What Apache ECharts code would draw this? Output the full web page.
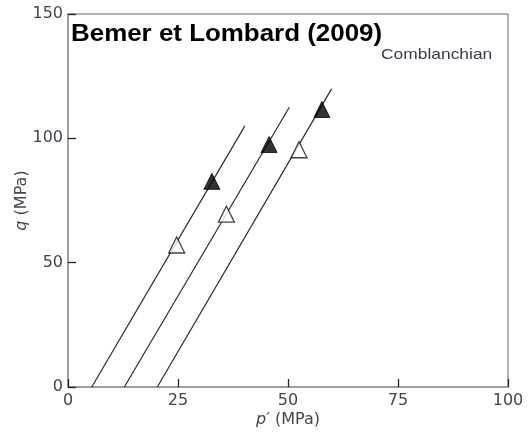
<!DOCTYPE html>
<html>
<head>
<meta charset="utf-8">
<script src="https://cdn.jsdelivr.net/npm/echarts@6/dist/echarts.min.js"></script>
<style>html,body{margin:0;padding:0;background:#fff}#c{width:530px;height:434px}</style>
</head>
<body>
<div id="c"></div>
<script>
// Fitted lines (start and end points in data units)
var line1 = [[5.4, 0], [40.2, 105]];
var line2 = [[12.8, 0], [50.3, 112.5]];
var line3 = [[20.3, 0], [59.9, 119.9]];
// Open triangles
var openPts = [[24.7, 57.1], [36.0, 69.5], [52.5, 95.4]];
// Filled triangles
var filledPts = [[32.7, 82.7], [45.7, 97.5], [57.7, 111.6]];
var xTicks = [0, 25, 50, 75, 100];
var yTicks = [0, 50, 100, 150];
var titleText = 'Bemer et Lombard (2009)';
var rockText = 'Comblanchian';

var chart = echarts.init(document.getElementById('c'));
var labelColor = '#444450';
function lineSeries(d) {
  return {type: 'line', data: d, symbol: 'none', lineStyle: {color: '#2a2a2a', width: 1.2}, silent: true, z: 2};
}
chart.setOption({
  animation: false,
  grid: {left: 68, right: 22, top: 14, bottom: 47, show: true, borderColor: '#999', borderWidth: 1.5,
         containLabel: false, outerBoundsMode: 'none'},
  xAxis: {
    type: 'value', min: xTicks[0], max: xTicks[xTicks.length - 1], interval: 25,
    axisLine: {lineStyle: {color: '#999', width: 1.5}},
    axisTick: {inside: true, length: 8, lineStyle: {color: '#222', width: 1.3}},
    axisLabel: {color: labelColor, fontFamily: 'DejaVu Sans', fontSize: 16, margin: 6},
    splitLine: {show: false},
    name: '{i|p′} (MPa)', nameLocation: 'middle', nameGap: 25, nameMoveOverlap: false,
    nameTextStyle: {color: labelColor, fontFamily: 'DejaVu Sans', fontSize: 16,
      rich: {i: {fontStyle: 'italic', fontFamily: 'DejaVu Sans', fontSize: 16, color: labelColor}}}
  },
  yAxis: {
    type: 'value', min: yTicks[0], max: yTicks[yTicks.length - 1], interval: 50,
    axisLine: {show: true, lineStyle: {color: '#999', width: 1.5}},
    axisTick: {show: true, inside: true, length: 8, lineStyle: {color: '#222', width: 1.3}},
    axisLabel: {color: labelColor, fontFamily: 'DejaVu Sans', fontSize: 16, margin: 5},
    splitLine: {show: false},
    name: '{i|q} (MPa)', nameLocation: 'middle', nameGap: 38, nameMoveOverlap: false,
    nameTextStyle: {color: labelColor, fontFamily: 'DejaVu Sans', fontSize: 16,
      rich: {i: {fontStyle: 'italic', fontFamily: 'DejaVu Sans', fontSize: 16, color: labelColor}}}
  },
  series: [
    lineSeries(line1), lineSeries(line2), lineSeries(line3),
    {type: 'scatter', data: openPts, symbol: 'triangle', symbolSize: 16,
     itemStyle: {color: '#fff', borderColor: '#111', borderWidth: 1.3}, z: 3},
    {type: 'scatter', data: filledPts, symbol: 'triangle', symbolSize: 16,
     itemStyle: {color: '#000', borderColor: '#000', borderWidth: 1}, z: 3}
  ],
  graphic: [
    {type: 'text', left: 71, top: 22, scaleX: 1.08, z: 10,
     style: {text: titleText, fontFamily: 'Liberation Sans, Arial', fontWeight: 'bold', fontSize: 24, fill: '#000'}},
    {type: 'text', left: 381, top: 47, scaleX: 1.16, z: 10,
     style: {text: rockText, fontFamily: 'Liberation Sans, Arial', fontSize: 15, fill: '#3a3a4c'}}
  ]
});
</script>
</body>
</html>
